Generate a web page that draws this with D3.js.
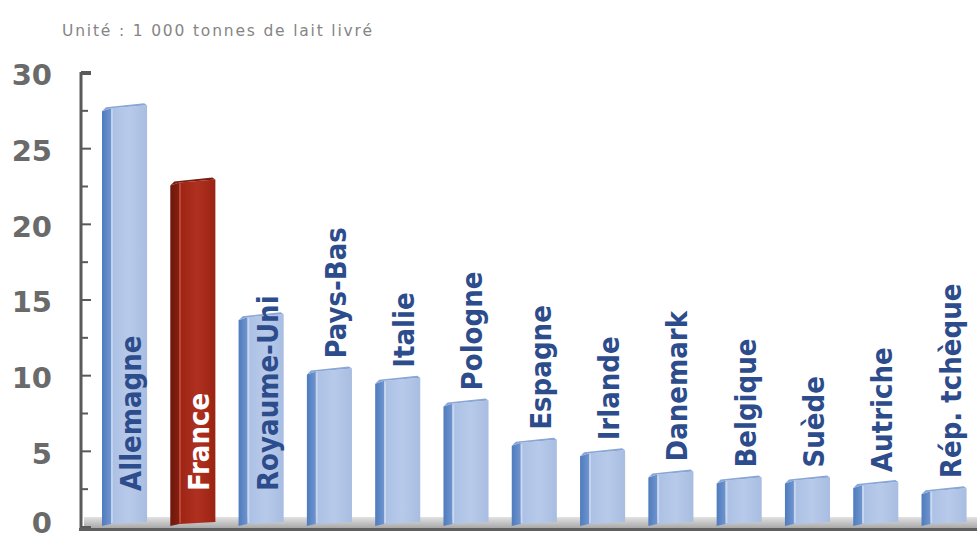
<!DOCTYPE html>
<html>
<head>
<meta charset="utf-8">
<script src="https://cdn.jsdelivr.net/npm/d3@7"></script>
<style>
  html, body { margin: 0; padding: 0; background: #ffffff; }
  svg { display: block; }
</style>
</head>
<body>
<svg id="chart" width="977" height="540"></svg>
<script>
// ---- data ----
const categories = ["Allemagne", "France", "Royaume-Uni", "Pays-Bas", "Italie", "Pologne",
  "Espagne", "Irlande", "Danemark", "Belgique", "Suède", "Autriche", "Rép. tchèque"];
const values = [27.8, 22.9, 14.0, 10.4, 9.8, 8.3, 5.7, 5.0, 3.6, 3.2, 3.2, 2.9, 2.5];
const highlighted = ["France"];
const yTicks = [0, 5, 10, 15, 20, 25, 30];
const unitLabel = "Unité : 1 000 tonnes de lait livré";

// ---- layout ----
const svg = d3.select("#chart");
const W = 977, H = 540;
const y = d3.scaleLinear().domain([0, 30]).range([527, 73]);
const x = d3.scaleBand().domain(categories).range([102, 966.6]).paddingInner(0.34).paddingOuter(0);
const baseY = 522;
const side = 9;

const defs = svg.append("defs");
function grad(id, stops, horiz) {
  const g = defs.append("linearGradient").attr("id", id)
    .attr("x1", 0).attr("y1", 0).attr("x2", horiz ? 1 : 0).attr("y2", horiz ? 0 : 1);
  stops.forEach(s => g.append("stop").attr("offset", s[0]).attr("stop-color", s[1]));
}
grad("frontBlue", [[0, "#aac0e4"], [0.5, "#b8caea"], [1, "#a8bde1"]], true);
grad("sideBlue", [[0, "#4f7bbd"], [1, "#6f95cf"]], true);
grad("frontRed", [[0, "#9b2414"], [0.5, "#b03020"], [1, "#9a2313"]], true);
grad("sideRed", [[0, "#6e170c"], [1, "#861f11"]], true);
grad("floor", [[0, "#e2e2e2"], [1, "#a9a9a9"]], false);

// unit label
svg.append("text")
  .attr("x", 62).attr("y", 36)
  .attr("font-family", "DejaVu Sans, sans-serif")
  .attr("font-size", 15.5)
  .attr("fill", "#858585")
  .attr("textLength", 310)
  .attr("lengthAdjust", "spacing")
  .text(unitLabel);

// floor
svg.append("rect").attr("x", 84).attr("y", 517).attr("width", W - 84).attr("height", 11)
  .attr("fill", "url(#floor)");

// bars
const data = categories.map((c, i) => ({ c, v: values[i], hi: highlighted.includes(c) }));
const bars = svg.append("g").selectAll("g").data(data).join("g");

bars.each(function(d) {
  const g = d3.select(this);
  const x0 = x(d.c), bw = x.bandwidth(), top = y(d.v);
  const fr = d.hi ? "url(#frontRed)" : "url(#frontBlue)";
  const sd = d.hi ? "url(#sideRed)" : "url(#sideBlue)";
  g.append("polygon")
    .attr("points", [[x0, top + 5], [x0 + side, top + 2], [x0 + side, baseY + 2], [x0, baseY + 4]].join(" "))
    .attr("fill", sd);
  g.append("polygon")
    .attr("points", [[x0 + side, top + 2], [x0 + bw, top - 1], [x0 + bw, baseY], [x0 + side, baseY + 2]].join(" "))
    .attr("fill", fr);
  g.append("polygon")
    .attr("points", [[x0, top + 5], [x0 + side, top + 2], [x0 + bw, top - 1], [x0 + bw - 3, top - 3], [x0 + 4, top + 1]].join(" "))
    .attr("fill", d.hi ? "#7a1c10" : "#8aa6d6");
  g.append("line")
    .attr("x1", x0 + side + 1).attr("x2", x0 + side + 1)
    .attr("y1", top + 3).attr("y2", baseY + 1)
    .attr("stroke", d.hi ? "#c2452f" : "#cad8f0").attr("stroke-width", 1.5);
});

// category labels (rotated)
const labelFont = "DejaVu Sans Condensed, DejaVu Sans, sans-serif";
bars.append("text")
  .attr("transform", d => {
    const cx = x(d.c) + x.bandwidth() / 2 + 6;
    const inside = d.v > 12;
    const ys = inside ? 491 : y(d.v) - 11;
    return `translate(${cx},${ys}) rotate(-90)`;
  })
  .attr("dy", "0.36em")
  .attr("text-anchor", "start")
  .attr("font-family", labelFont)
  .attr("font-weight", "bold")
  .attr("font-size", 29)
  .attr("fill", d => d.hi ? "#ffffff" : "#2d4c8c")
  .text(d => d.c);

// y axis
const axisG = svg.append("g");
axisG.append("line").attr("x1", 81).attr("x2", 81).attr("y1", y(30) - 1).attr("y2", 531)
  .attr("stroke", "#5a5a5a").attr("stroke-width", 3);
const minor = d3.range(0, 30.01, 2.5);
axisG.selectAll("line.tick").data(minor).join("line")
  .attr("class", "tick")
  .attr("x1", 81).attr("x2", d => (d % 5 === 0 ? 91 : 88))
  .attr("y1", d => y(d)).attr("y2", d => y(d))
  .attr("stroke", "#5a5a5a").attr("stroke-width", d => (d === 30 ? 4 : 2));

axisG.selectAll("text").data(yTicks).join("text")
  .attr("x", 52).attr("y", d => y(d) + (d === 0 ? -4 : 2))
  .attr("dy", "0.36em")
  .attr("text-anchor", "end")
  .attr("font-family", "DejaVu Sans, sans-serif")
  .attr("font-weight", "bold")
  .attr("font-size", 29)
  .attr("fill", "#6a6a6a")
  .text(d => d);

// x axis line
svg.append("line").attr("x1", 79).attr("x2", W).attr("y1", 529.5).attr("y2", 529.5)
  .attr("stroke", "#5f5f5f").attr("stroke-width", 3);
</script>
</body>
</html>
